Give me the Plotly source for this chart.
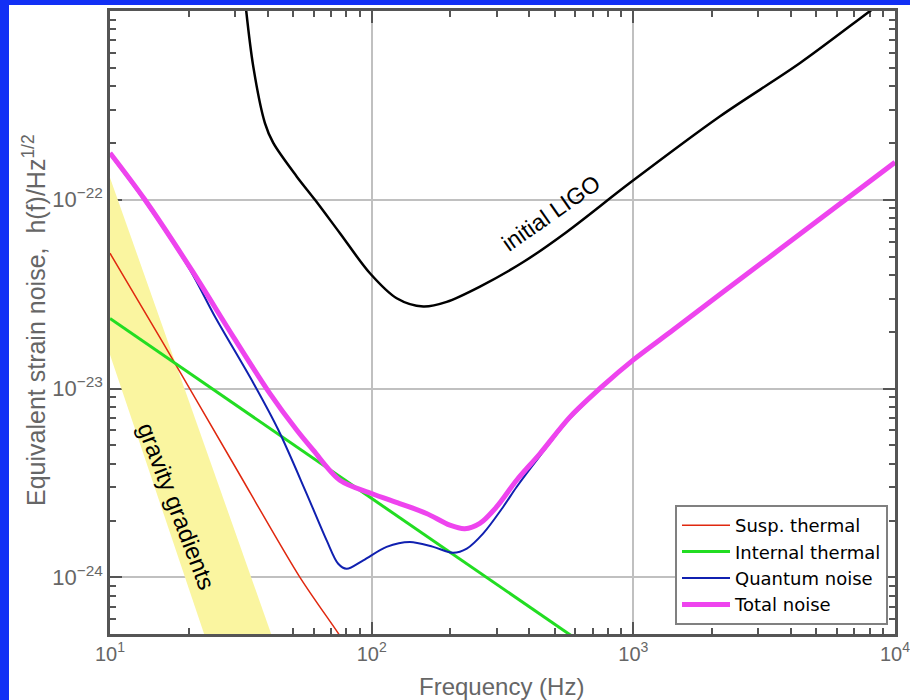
import plotly.graph_objects as go

# ---------------- data ----------------
# Susp. thermal (red)
susp_f = [10, 15.97, 29.58, 53.2, 75.65, 85]
susp_h = [5.21e-23, 1.74e-23, 4.01e-24, 1.00e-24, 4.9e-25, 3.8e-25]

# Internal thermal (green)
int_f = [10, 30, 100, 300, 1000]
int_h = [2.35e-23, 8.26e-24, 2.62e-24, 9.2e-25, 2.92e-25]

# Quantum noise (blue)
quant_f = [10, 13.6, 20.2, 25.2, 35.3, 44.0, 56.4, 67.3, 74.5, 80.2, 92.9, 114, 140, 172,
           205, 231, 267, 318, 358, 440, 573, 768, 1000, 1422, 2145, 3638, 10000]
quant_h = [1.74e-22, 9.8e-23, 4.26e-23, 2.40e-23, 1.07e-23, 6.03e-24, 2.78e-24, 1.57e-24,
           1.18e-24, 1.11e-24, 1.23e-24, 1.45e-24, 1.54e-24, 1.45e-24, 1.35e-24, 1.42e-24,
           1.71e-24, 2.36e-24, 3.01e-24, 4.4e-24, 6.95e-24, 1.03e-23, 1.41e-23, 2.03e-23,
           3.14e-23, 5.45e-23, 1.57e-22]

# Total noise (magenta)
total_f = [10, 13.6, 20.5, 29.6, 40.8, 51.7, 59.8, 75.6, 100, 128, 162, 199, 227, 259, 300,
           358, 440, 573, 768, 1000, 1422, 2145, 3638, 10000]
total_h = [1.77e-22, 1.0e-22, 4.25e-23, 1.88e-23, 9.44e-24, 6.03e-24, 4.72e-24, 3.27e-24,
           2.78e-24, 2.46e-24, 2.18e-24, 1.89e-24, 1.81e-24, 1.93e-24, 2.36e-24, 3.27e-24,
           4.53e-24, 7.08e-24, 1.04e-23, 1.42e-23, 2.05e-23, 3.16e-23, 5.48e-23, 1.58e-22]

# initial LIGO (black)
ligo_f = [32.8, 35.27, 39.09, 42.06, 51.68, 60.72, 75.65, 98.5, 124.6, 157.5, 193.5,
          259.4, 379.7, 556.5, 971.4, 2145, 4337, 8032, 10000]
ligo_h = [1.15e-21, 5.09e-22, 2.55e-22, 2.00e-22, 1.33e-22, 1.00e-22, 6.65e-23, 4.08e-23,
          3.01e-23, 2.72e-23, 2.88e-23, 3.47e-23, 4.68e-23, 6.76e-23, 1.23e-22,
          2.77e-22, 5.3e-22, 1.0e-21, 1.25e-21]

# gravity gradients band (upper and lower edges)
grav_upper_f = [10, 45]
grav_upper_h = [1.31e-22, 3.58e-25]
grav_lower_f = [10, 25]
grav_lower_h = [1.51e-23, 3.49e-25]

x_tickvals = [10, 100, 1000, 10000]
x_ticktext = ["10<sup>1</sup>", "10<sup>2</sup>", "10<sup>3</sup>", "10<sup>4</sup>"]
y_tickvals = [1e-24, 1e-23, 1e-22]
y_ticktext = ["10<sup>\u221224</sup>", "10<sup>\u221223</sup>", "10<sup>\u221222</sup>"]

FONT = "Arial, Liberation Sans, sans-serif"
AXC = "#555555"

fig = go.Figure()

# gravity gradient band
band_x = grav_upper_f + grav_lower_f[::-1]
band_y = grav_upper_h + grav_lower_h[::-1]
fig.add_trace(go.Scatter(x=band_x, y=band_y, fill="toself", fillcolor="#FAF5A0",
                         line=dict(width=0), mode="lines", showlegend=False,
                         hoverinfo="skip"))

fig.add_trace(go.Scatter(x=ligo_f, y=ligo_h, mode="lines", showlegend=False,
                         line=dict(color="black", width=2.5, shape="spline", smoothing=0.9)))

fig.add_trace(go.Scatter(x=susp_f, y=susp_h, mode="lines", name="Susp. thermal",
                         line=dict(color="#E0280F", width=1.5, shape="spline", smoothing=0.8)))
fig.add_trace(go.Scatter(x=int_f, y=int_h, mode="lines", name="Internal thermal",
                         line=dict(color="#22DD22", width=3)))
fig.add_trace(go.Scatter(x=quant_f, y=quant_h, mode="lines", name="Quantum noise",
                         line=dict(color="#1020B0", width=2, shape="spline", smoothing=0.9)))
fig.add_trace(go.Scatter(x=total_f, y=total_h, mode="lines", name="Total noise",
                         line=dict(color="#EE44EE", width=5, shape="spline", smoothing=0.9)))

x_minor = [m * 10 ** d for d in range(1, 4) for m in range(2, 10)]
y_minor = [m * 10.0 ** d for d in range(-25, -21) for m in range(2, 10)]

common = dict(showgrid=True, gridcolor="#C0C0C0", gridwidth=1.5, zeroline=False,
              ticks="inside", ticklen=12, tickwidth=2, tickcolor=AXC,
              showline=True, linecolor=AXC, linewidth=2.5, mirror="allticks",
              layer="below traces", tickmode="array", ticklabeloverflow="allow",
              automargin=False)

fig.update_xaxes(type="log", range=[1, 4], tickvals=x_tickvals, ticktext=x_ticktext,
                 tickfont=dict(family=FONT, size=20, color="#666666"),
                 minor=dict(tickmode="array", tickvals=x_minor, ticks="inside", ticklen=6,
                            tickwidth=2, tickcolor=AXC, showgrid=False),
                 **common)
fig.update_yaxes(type="log", range=[-24.30, -21.0], tickvals=y_tickvals, ticktext=y_ticktext,
                 tickfont=dict(family=FONT, size=22, color="#666666"),
                 minor=dict(tickmode="array", tickvals=y_minor, ticks="inside", ticklen=6,
                            tickwidth=2, tickcolor=AXC, showgrid=False),
                 **common)

L, R, T, B = 110, 15, 11, 66
W, H = 910, 700
pw, ph = W - L - R, H - T - B

def px(xp):
    return (xp - L) / pw

def py(yp):
    return (H - B - yp) / ph

fig.add_shape(type="rect", xref="paper", yref="paper",
              x0=px(9), x1=px(912), y0=py(702), y1=py(5),
              fillcolor="white", line=dict(width=0), layer="below")

ann = dict(xref="paper", yref="paper", showarrow=False, xanchor="center", yanchor="middle")
fig.add_annotation(text="initial LIGO", x=px(551), y=py(213), textangle=-35,
                   font=dict(family=FONT, size=23, color="black"), **ann)
fig.add_annotation(text="gravity gradients", x=px(177), y=py(506), textangle=69,
                   font=dict(family=FONT, size=24, color="black"), **ann)
fig.add_annotation(text="Frequency (Hz)", x=px(501), y=py(686),
                   font=dict(family=FONT, size=24, color="#666666"), **ann)
fig.add_annotation(text="Equivalent strain noise,  h(f)/Hz<sup>1/2</sup>",
                   x=px(34), y=py(320), textangle=-90,
                   font=dict(family=FONT, size=25, color="#666666"), **ann)

fig.update_layout(
    width=W, height=H, autosize=False,
    margin=dict(l=L, r=R, t=T, b=B),
    paper_bgcolor="#1230F5", plot_bgcolor="white",
    legend=dict(x=px(888), y=py(625), xanchor="right", yanchor="bottom",
                bgcolor="white", bordercolor="#808080", borderwidth=2, itemwidth=48,
                font=dict(family="DejaVu Sans, Arial, sans-serif", size=18, color="black"),
                traceorder="normal"),
    font=dict(family=FONT),
)

fig.write_html("out.html")
